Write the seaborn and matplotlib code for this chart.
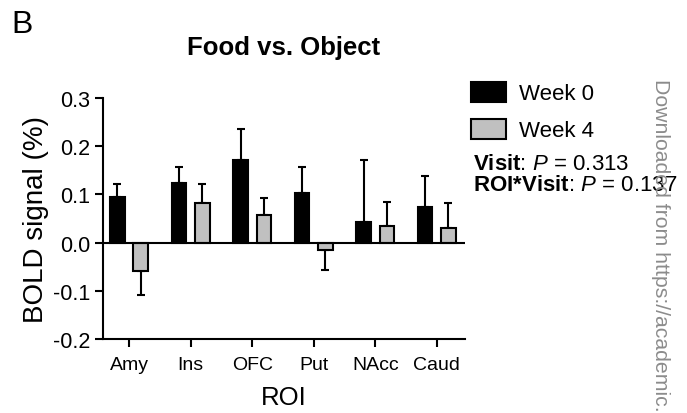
import matplotlib
matplotlib.use("Agg")
import matplotlib.pyplot as plt
import seaborn as sns
import pandas as pd
from matplotlib.patches import Patch

rois = ["Amy", "Ins", "OFC", "Put", "NAcc", "Caud"]
visits = ["Week 0", "Week 4"]
week0 = [0.095, 0.123, 0.171, 0.102, 0.043, 0.074]
week0_err = [0.027, 0.034, 0.064, 0.055, 0.128, 0.064]
week4 = [-0.059, 0.083, 0.057, -0.016, 0.034, 0.030]
week4_err = [0.049, 0.038, 0.036, 0.040, 0.050, 0.051]
yticks = [-0.2, -0.1, 0.0, 0.1, 0.2, 0.3]
colors = ["#000000", "#c0c0c0"]

sns.set_style("ticks")
plt.rcParams["font.family"] = ["Liberation Sans", "DejaVu Sans"]
plt.rcParams["mathtext.fontset"] = "custom"
plt.rcParams["mathtext.rm"] = "Liberation Sans"
plt.rcParams["mathtext.it"] = "Liberation Sans:italic"
plt.rcParams["mathtext.bf"] = "Liberation Sans:bold"
for k in ["text.color", "axes.labelcolor", "xtick.color", "ytick.color", "axes.edgecolor"]:
    plt.rcParams[k] = "black"

df = pd.DataFrame({
    "ROI": rois * 2,
    "Visit": [visits[0]] * len(rois) + [visits[1]] * len(rois),
    "value": week0 + week4,
})

fig = plt.figure(figsize=(6.87, 4.14), dpi=100)
ax = fig.add_axes([0.1495, 0.179, 0.677 - 0.1495, 0.761 - 0.179])

sns.barplot(data=df, x="ROI", y="value", hue="Visit", order=rois, hue_order=visits,
            palette=colors, width=0.76, gap=0.37, edgecolor="black", linewidth=1.5,
            errorbar=None, legend=False, ax=ax, zorder=3)

for cont, vals, errs in zip(ax.containers, [week0, week4], [week0_err, week4_err]):
    xs = [b.get_x() + b.get_width() / 2 for b in cont]
    lower = [e if v < 0 else 0 for v, e in zip(vals, errs)]
    upper = [e if v >= 0 else 0 for v, e in zip(vals, errs)]
    ax.errorbar(xs, vals, yerr=[lower, upper], fmt="none", ecolor="black",
                elinewidth=1.5, capsize=3, capthick=1.5, zorder=2)

ax.set_xlim(-0.43, 5.46)
ax.set_ylim(-0.2, 0.3)
ax.set_yticks(yticks)
ax.set_yticklabels([f"{t:.1f}" for t in yticks], fontsize=15.5)
ax.tick_params(axis="x", labelsize=14, length=6, width=1.5, direction="out", pad=6)
ax.tick_params(axis="y", length=6, width=1.5, direction="out", pad=3)
ax.axhline(0, color="black", linewidth=1.5, zorder=4)
sns.despine(ax=ax)
for s in ["left", "bottom"]:
    ax.spines[s].set_linewidth(1.5)
    ax.spines[s].set_color("black")

ax.set_xlabel("ROI", fontsize=18.5, labelpad=9)
ax.set_ylabel("BOLD signal (%)", fontsize=20, labelpad=3)

fig.text(0.413, 0.884, "Food vs. Object", fontsize=18.5, fontweight="bold",
         ha="center", va="center")
fig.text(0.016, 0.975, "B", fontsize=23, ha="left", va="top")

handles = [Patch(facecolor=c, edgecolor="black", linewidth=1.5) for c in colors]
fig.legend(handles, visits, loc="upper left", bbox_to_anchor=(0.686, 0.80),
           frameon=False, fontsize=16, handlelength=1.55, handleheight=1.0,
           handletextpad=0.6, labelspacing=0.65, borderpad=0, borderaxespad=0)

fig.text(0.688, 0.603, r"$\mathbf{Visit}$: $\mathit{P}$ = 0.313", fontsize=16,
         ha="left", va="center")
fig.text(0.688, 0.551, r"$\mathbf{ROI{*}Visit}$: $\mathit{P}$ = 0.137", fontsize=16,
         ha="left", va="center")

fig.text(0.962, 0.81, "Downloaded from https://academic.", fontsize=15.3,
         color="#8c8c8c", rotation=270, ha="center", va="top")

fig.savefig("out.png", dpi=100)
